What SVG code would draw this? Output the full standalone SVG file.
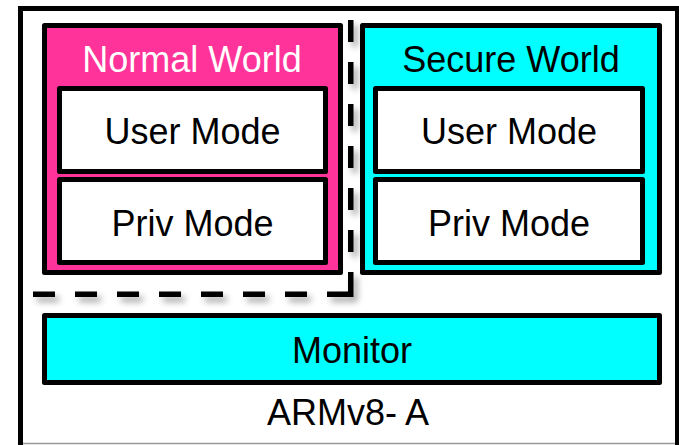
<svg xmlns="http://www.w3.org/2000/svg" width="679" height="445" viewBox="0 0 679 445">
<defs>
<style>
.box{stroke:#000;stroke-width:5;stroke-linejoin:round}
.t{font-family:"Liberation Sans",Arial,sans-serif;font-size:36px;text-anchor:middle}
</style>
<filter id="blur" filterUnits="userSpaceOnUse" x="0" y="0" width="679" height="445">
<feGaussianBlur stdDeviation="3"/>
</filter>
<path id="dpath" d="M348 20 h5.5 v22 h-5.5 z M348 62 h5.5 v22 h-5.5 z M348 104 h5.5 v22 h-5.5 z M348 146 h5.5 v22 h-5.5 z M348 188 h5.5 v22 h-5.5 z M348 230 h5.5 v22 h-5.5 z M348 272 h5.5 v25 h-26.5 v-5.5 h21 z M33 291.5 h22 v5.5 h-22 z M75 291.5 h22 v5.5 h-22 z M117 291.5 h22 v5.5 h-22 z M159 291.5 h22 v5.5 h-22 z M201 291.5 h22 v5.5 h-22 z M243 291.5 h22 v5.5 h-22 z M285 291.5 h22 v5.5 h-22 z"/>
</defs>
<rect x="0" y="0" width="679" height="445" fill="#fff"/>
<g id="armv8">
<line x1="20" y1="443.5" x2="679" y2="443.5" stroke="#999" stroke-width="1.5"/>
<path d="M20.5 445 V8.5 H677.5 V445" fill="none" stroke="#000" stroke-width="5" stroke-linejoin="miter"/>
<line x1="678" y1="6" x2="678" y2="445" stroke="#000" stroke-width="2.5"/>
<text class="t" x="348" y="425">ARMv8- A</text>
</g>
<g id="normal-world">
<rect class="box" x="44.5" y="25.5" width="296" height="247" fill="#FF3399"/>
<text class="t" x="192" y="72" fill="#fff">Normal World</text>
</g>
<g id="normal-user">
<rect class="box" x="59.5" y="88.5" width="266" height="83" fill="#fff"/>
<text class="t" x="192.5" y="144">User Mode</text>
</g>
<g id="normal-priv">
<rect class="box" x="59.5" y="179.5" width="266" height="83" fill="#fff"/>
<text class="t" x="192.5" y="236">Priv Mode</text>
</g>
<g id="secure-world">
<rect class="box" x="362.5" y="25.5" width="297" height="247" fill="#00FFFF"/>
<text class="t" x="511" y="72">Secure World</text>
</g>
<g id="secure-user">
<rect class="box" x="375.5" y="88.5" width="267" height="83" fill="#fff"/>
<text class="t" x="509" y="144">User Mode</text>
</g>
<g id="secure-priv">
<rect class="box" x="375.5" y="179.5" width="267" height="83" fill="#fff"/>
<text class="t" x="509" y="236">Priv Mode</text>
</g>
<g id="monitor">
<rect class="box" x="44.5" y="315.5" width="615" height="67" fill="#00FFFF"/>
<text class="t" x="352" y="363">Monitor</text>
</g>
<g id="connectors">
<use href="#dpath" fill="#000" fill-opacity="0.35" transform="translate(4 5)" filter="url(#blur)"/>
<use href="#dpath" fill="#000"/>
</g>
</svg>
